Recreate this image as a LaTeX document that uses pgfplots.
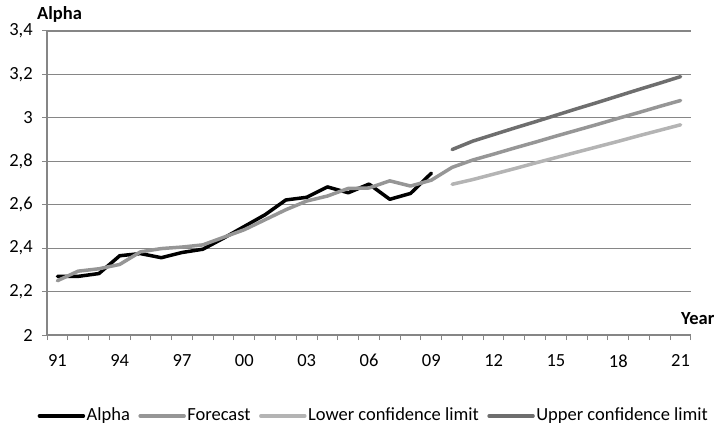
\documentclass[border=0pt]{standalone}
\usepackage{fontspec}
\setmainfont{Carlito}
\usepackage{pgfplots}
\pgfplotsset{compat=1.18}
\definecolor{gridgray}{RGB}{134,134,134}
\definecolor{fcgray}{RGB}{150,150,150}
\definecolor{lowgray}{RGB}{180,180,180}
\definecolor{upgray}{RGB}{110,110,110}
\newcommand{\chartfont}{\fontsize{18.5bp}{22bp}\selectfont}
\begin{document}
\chartfont
\begin{tikzpicture}
\path[use as bounding box] (-47bp,-93bp) rectangle (671bp,335bp);
\begin{axis}[
  at={(0,0)}, anchor=south west,
  scale only axis, width=644bp, height=304bp,
  clip=false,
  xmin=1990.5, xmax=2021.5, ymin=2, ymax=3.4,
  axis x line=bottom, axis y line=left,
  axis line style={gridgray, line width=1.2bp, -},
  ytick={2,2.2,2.4,2.6,2.8,3,3.2,3.4},
  ymajorgrids, grid style={gridgray, line width=1.2bp},
  xtick={1991,1994,1997,2000,2003,2006,2009,2012,2015,2018,2021},
  xticklabels={91,94,97,00,03,06,09,12,15,18,21},
  minor xtick={1990.5,1991.5,...,2021.5},
  tick align=outside,
  major tick length=5bp, minor tick length=5bp,
  major x tick style={draw=none},
  every tick/.style={gridgray, line width=1bp},
  minor tick style={gridgray, line width=1bp},
  yticklabel style={xshift=-3bp, /pgf/number format/.cd, fixed, precision=1, use comma, assume math mode=true},
  xticklabel style={yshift=-8bp},
  tick label style={font=\chartfont},
  legend style={at={(axis description cs:0.507,-0.266)}, anchor=center, draw=none,
    font=\chartfont, inner sep=0pt,
    /tikz/every even column/.append style={column sep=7bp},
    nodes={inner xsep=1.5bp, inner ysep=0pt}},
  legend columns=4,
  legend image code/.code={\draw[#1] (0bp,0bp) -- (44bp,0bp);},
  every axis plot/.append style={line width=3.5bp, line join=round, line cap=round},
]
\addplot[black] coordinates {
(1991,2.270)(1992,2.270)(1993,2.283)(1994,2.365)(1995,2.375)(1996,2.356)(1997,2.380)(1998,2.395)(1999,2.446)(2000,2.500)
(2001,2.554)(2002,2.622)(2003,2.634)(2004,2.682)(2005,2.655)(2006,2.695)(2007,2.625)(2008,2.652)(2009,2.745)};
\addlegendentry{Alpha}
\addplot[fcgray] coordinates {
(1991,2.250)(1992,2.294)(1993,2.305)(1994,2.325)(1995,2.383)(1996,2.398)(1997,2.405)(1998,2.415)(1999,2.450)(2000,2.485)
(2001,2.531)(2002,2.577)(2003,2.617)(2004,2.640)(2005,2.675)(2006,2.677)(2007,2.710)(2008,2.686)(2009,2.713)(2010,2.772)
(2011,2.806)(2012,2.833)(2013,2.861)(2014,2.888)(2015,2.916)(2016,2.943)(2017,2.970)(2018,2.998)(2019,3.025)(2020,3.053)(2021,3.080)};
\addlegendentry{Forecast}
\addplot[lowgray] coordinates {
(2010,2.694)(2011,2.716)(2012,2.741)(2013,2.766)(2014,2.792)(2015,2.817)(2016,2.842)(2017,2.867)(2018,2.892)(2019,2.918)(2020,2.943)(2021,2.968)};
\addlegendentry{Lower confidence limit}
\addplot[upgray] coordinates {
(2010,2.854)(2011,2.893)(2012,2.923)(2013,2.953)(2014,2.982)(2015,3.012)(2016,3.042)(2017,3.071)(2018,3.101)(2019,3.131)(2020,3.160)(2021,3.190)};
\addlegendentry{Upper confidence limit}
\node[anchor=base west, font=\bfseries\chartfont, inner sep=0pt] at (rel axis cs:0,1) [xshift=-10bp, yshift=11bp] {Alpha};
\node[anchor=base west, font=\bfseries\chartfont, inner sep=0pt] at (rel axis cs:1,0) [xshift=-10bp, yshift=11bp] {Year};
\end{axis}
\end{tikzpicture}
\end{document}
